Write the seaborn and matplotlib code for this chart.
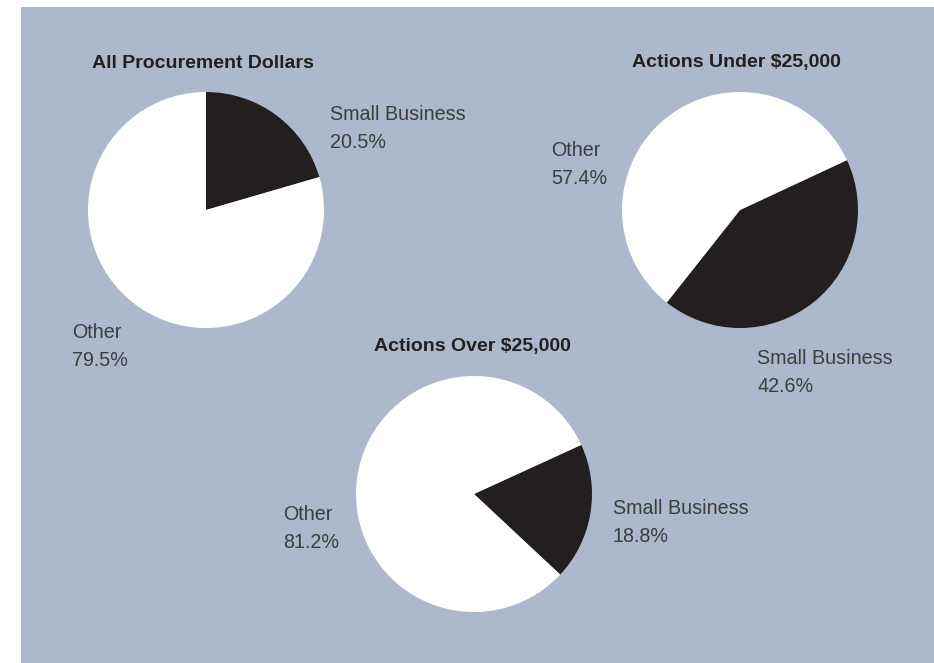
"""Small business share of procurement — three pie charts on a shaded panel."""
import matplotlib
matplotlib.use("Agg")
import matplotlib.pyplot as plt
import seaborn as sns

# Data
titles = ["All Procurement Dollars", "Actions Under $25,000", "Actions Over $25,000"]
categories = ["Small Business", "Other"]
small_business = [20.5, 42.6, 18.8]
other = [79.5, 57.4, 81.2]

W, H = 934, 663
BG = "#adb8cd"
DARK = "#231f20"

sns.set_style("white")
plt.rcParams["font.family"] = ["Liberation Sans", "DejaVu Sans"]

fig = plt.figure(figsize=(W / 100, H / 100), dpi=100)
fig.patch.set_facecolor("white")

# one axes spanning the figure, data units = pixels (y up)
ax = fig.add_axes([0, 0, 1, 1])

# pie layout: centre (px from top-left), start angle, title pos, label positions
layout = [
    dict(center=(206, 210), start=90.0, title=(203, 63),
         sb_pos=(330, 114), ot_pos=(72, 333)),
    dict(center=(740, 210), start=25.0, title=(736, 63),
         sb_pos=(757, 359), ot_pos=(551, 150)),
    dict(center=(474, 494), start=24.6, title=(472, 346),
         sb_pos=(613, 508), ot_pos=(283, 515)),
]
radius = 118
line_gap = 28

ax.add_patch(plt.Rectangle((21, 0), W - 21, H - 7, facecolor=BG,
                           edgecolor="none", zorder=0))

for i, spec in enumerate(layout):
    cx, cy = spec["center"]
    ax.pie([small_business[i], other[i]], colors=[DARK, "white"],
           startangle=spec["start"], counterclock=False,
           center=(cx, H - cy), radius=radius,
           wedgeprops=dict(edgecolor="none", linewidth=0), frame=True)
    tx, ty = spec["title"]
    ax.text(tx, H - ty, titles[i], ha="center", va="center",
            fontsize=14, fontweight="bold", color=DARK)
    for name, val, pos in [(categories[0], small_business[i], spec["sb_pos"]),
                           (categories[1], other[i], spec["ot_pos"])]:
        px, py = pos
        for k, line in enumerate([name, f"{val:.1f}%"]):
            ax.text(px, H - py - k * line_gap, line, ha="left", va="center",
                    fontsize=14.2, color="#3d3d3d")

ax.set_xlim(0, W)
ax.set_ylim(0, H)
ax.set_aspect("auto")
ax.axis("off")

fig.savefig("out.png", dpi=100, facecolor="white")
plt.close(fig)
